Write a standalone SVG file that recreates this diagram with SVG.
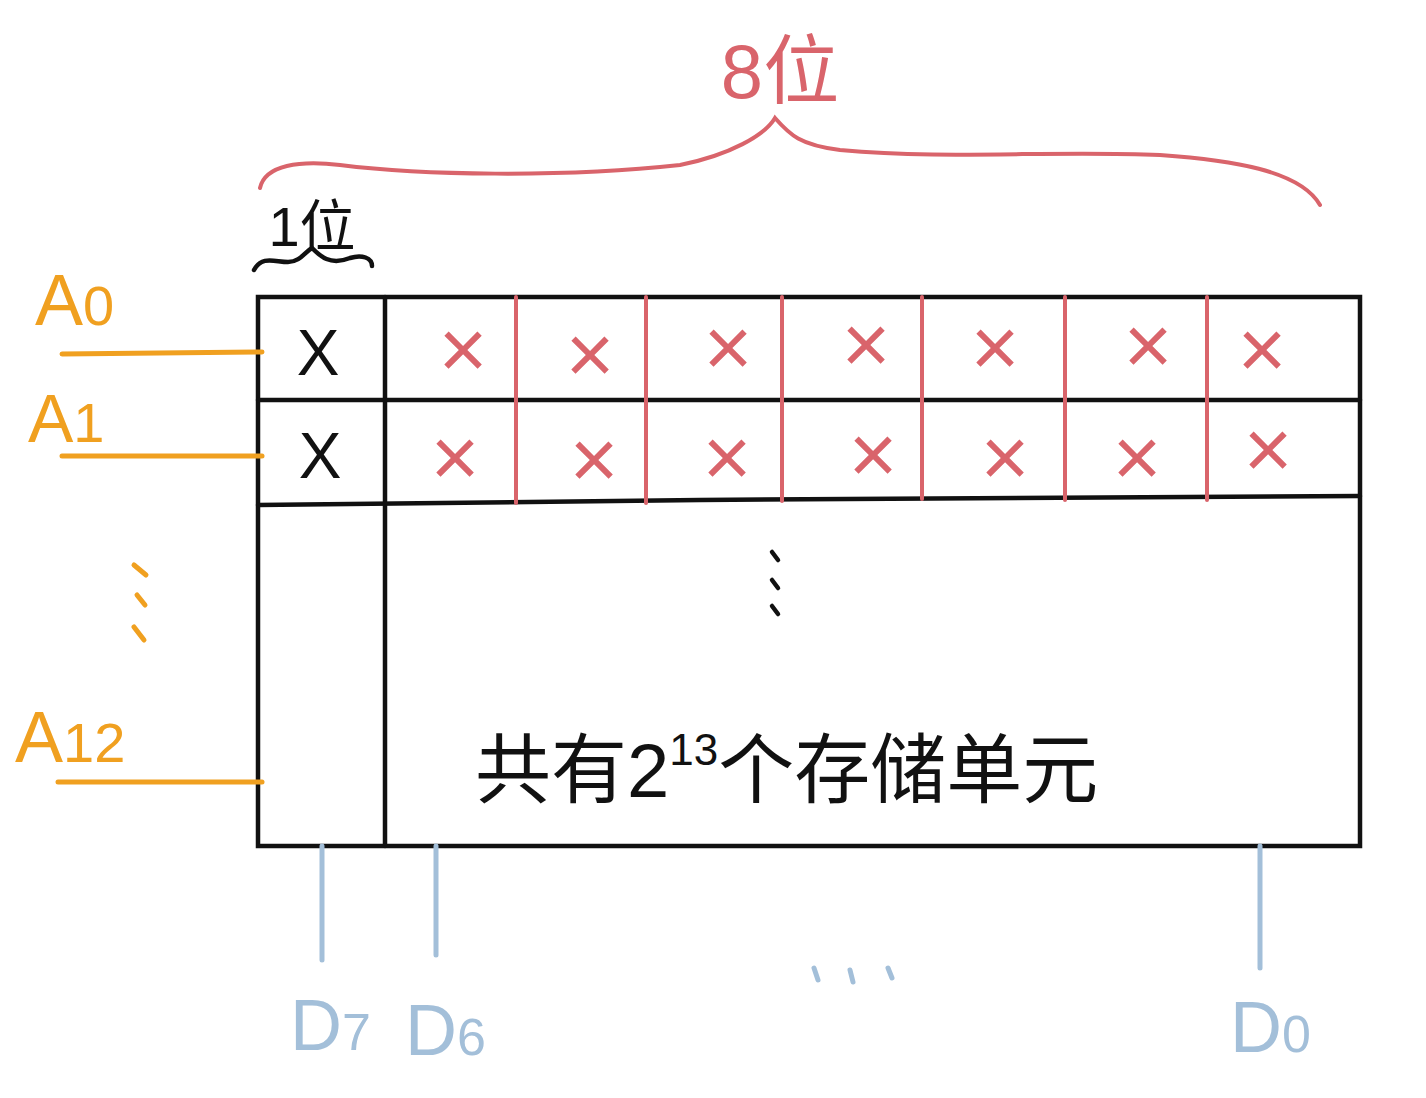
<svg xmlns="http://www.w3.org/2000/svg" width="1426" height="1098" viewBox="0 0 1426 1098">
<style>
.red{fill:#d9646b;font-family:"Liberation Sans","Noto Sans CJK SC",sans-serif}
.blk{fill:#111;font-family:"Liberation Sans","Noto Sans CJK SC",sans-serif}
.org{fill:#f0a020;font-family:"Liberation Sans",sans-serif}
.blu{fill:#a3bfd9;font-family:"Liberation Sans",sans-serif}
.rl{stroke:#d9646b;stroke-width:4;fill:none;stroke-linecap:round}
.bl{stroke:#111;stroke-width:4.5;fill:none;stroke-linecap:round}
.ol{stroke:#f0a020;stroke-width:5;fill:none;stroke-linecap:round}
.ul{stroke:#a3bfd9;stroke-width:5;fill:none;stroke-linecap:round}
.xr{font-size:84px;text-anchor:middle}
.xb{font-size:64px;text-anchor:middle}
</style>
<rect width="1426" height="1098" fill="#fff"/>
<g id="width-label">
<path class="rl" d="M260,188 C265,165 300,160 340,165 C420,175 560,178 680,165 C730,155 765,135 775,118 C790,135 800,145 840,150 C950,160 1050,150 1160,155 C1230,160 1300,170 1320,205"/>
<text class="red" x="780" y="98" font-size="76" text-anchor="middle">8位</text>
</g>
<g id="bit-label">
<text class="blk" x="312" y="246" font-size="56" text-anchor="middle">1位</text>
<path class="bl" d="M254,270 C262,255 275,262 288,262 C300,262 305,252 312,248 C320,256 330,266 350,258 C362,254 372,258 372,266"/>
</g>
<g id="memory">
<rect x="258" y="297" width="1102" height="549" class="bl" stroke-linecap="butt"/>
<line class="bl" x1="385" y1="297" x2="385" y2="846"/>
<line class="bl" x1="258" y1="400" x2="1360" y2="400"/>
<path class="bl" d="M258,505 L700,500 L1360,496"/>
<g class="rl">
<line x1="516" y1="297" x2="516" y2="503"/>
<line x1="646" y1="297" x2="646" y2="503"/>
<line x1="782" y1="297" x2="782" y2="501"/>
<line x1="922" y1="297" x2="922" y2="499"/>
<line x1="1065" y1="297" x2="1065" y2="500"/>
<line x1="1207" y1="297" x2="1207" y2="500"/>
</g>
<text class="blk xb" x="318" y="375">X</text>
<text class="blk xb" x="320" y="478">X</text>
<g class="red xr">
<text x="463" y="378">×</text>
<text x="590" y="383">×</text>
<text x="728" y="376">×</text>
<text x="866" y="373">×</text>
<text x="995" y="376">×</text>
<text x="1148" y="374">×</text>
<text x="1262" y="378">×</text>
<text x="455" y="486">×</text>
<text x="594" y="488">×</text>
<text x="727" y="486">×</text>
<text x="873" y="483">×</text>
<text x="1005" y="486">×</text>
<text x="1137" y="486">×</text>
<text x="1268" y="478">×</text>
</g>
<g class="bl">
<line x1="772" y1="552" x2="778" y2="560"/>
<line x1="772" y1="580" x2="778" y2="588"/>
<line x1="772" y1="606" x2="778" y2="614"/>
</g>
<text class="blk" x="475" y="797" font-size="76">共有2<tspan font-size="44" dy="-32">13</tspan><tspan dy="32">个存储单元</tspan></text>
</g>
<g id="address-lines">
<text class="org" x="35" y="325" font-size="72">A<tspan font-size="56">0</tspan></text>
<text class="org" x="28" y="442" font-size="68">A<tspan font-size="56">1</tspan></text>
<text class="org" x="15" y="762" font-size="72">A<tspan font-size="56">12</tspan></text>
<g class="ol">
<line x1="62" y1="354" x2="262" y2="352"/>
<line x1="62" y1="456" x2="262" y2="456"/>
<line x1="58" y1="782" x2="262" y2="782"/>
<line x1="134" y1="565" x2="146" y2="575"/>
<line x1="137" y1="595" x2="145" y2="605"/>
<line x1="134" y1="627" x2="144" y2="640"/>
</g>
</g>
<g id="data-lines">
<g class="ul">
<line x1="322" y1="846" x2="322" y2="960"/>
<line x1="436" y1="846" x2="436" y2="955"/>
<line x1="1260" y1="846" x2="1260" y2="968"/>
<line x1="814" y1="968" x2="818" y2="980"/>
<line x1="850" y1="970" x2="853" y2="982"/>
<line x1="888" y1="968" x2="892" y2="978"/>
</g>
<text class="blu" x="290" y="1050" font-size="72">D<tspan font-size="52">7</tspan></text>
<text class="blu" x="405" y="1055" font-size="72">D<tspan font-size="52">6</tspan></text>
<text class="blu" x="1230" y="1052" font-size="72">D<tspan font-size="52">0</tspan></text>
</g>
</svg>
